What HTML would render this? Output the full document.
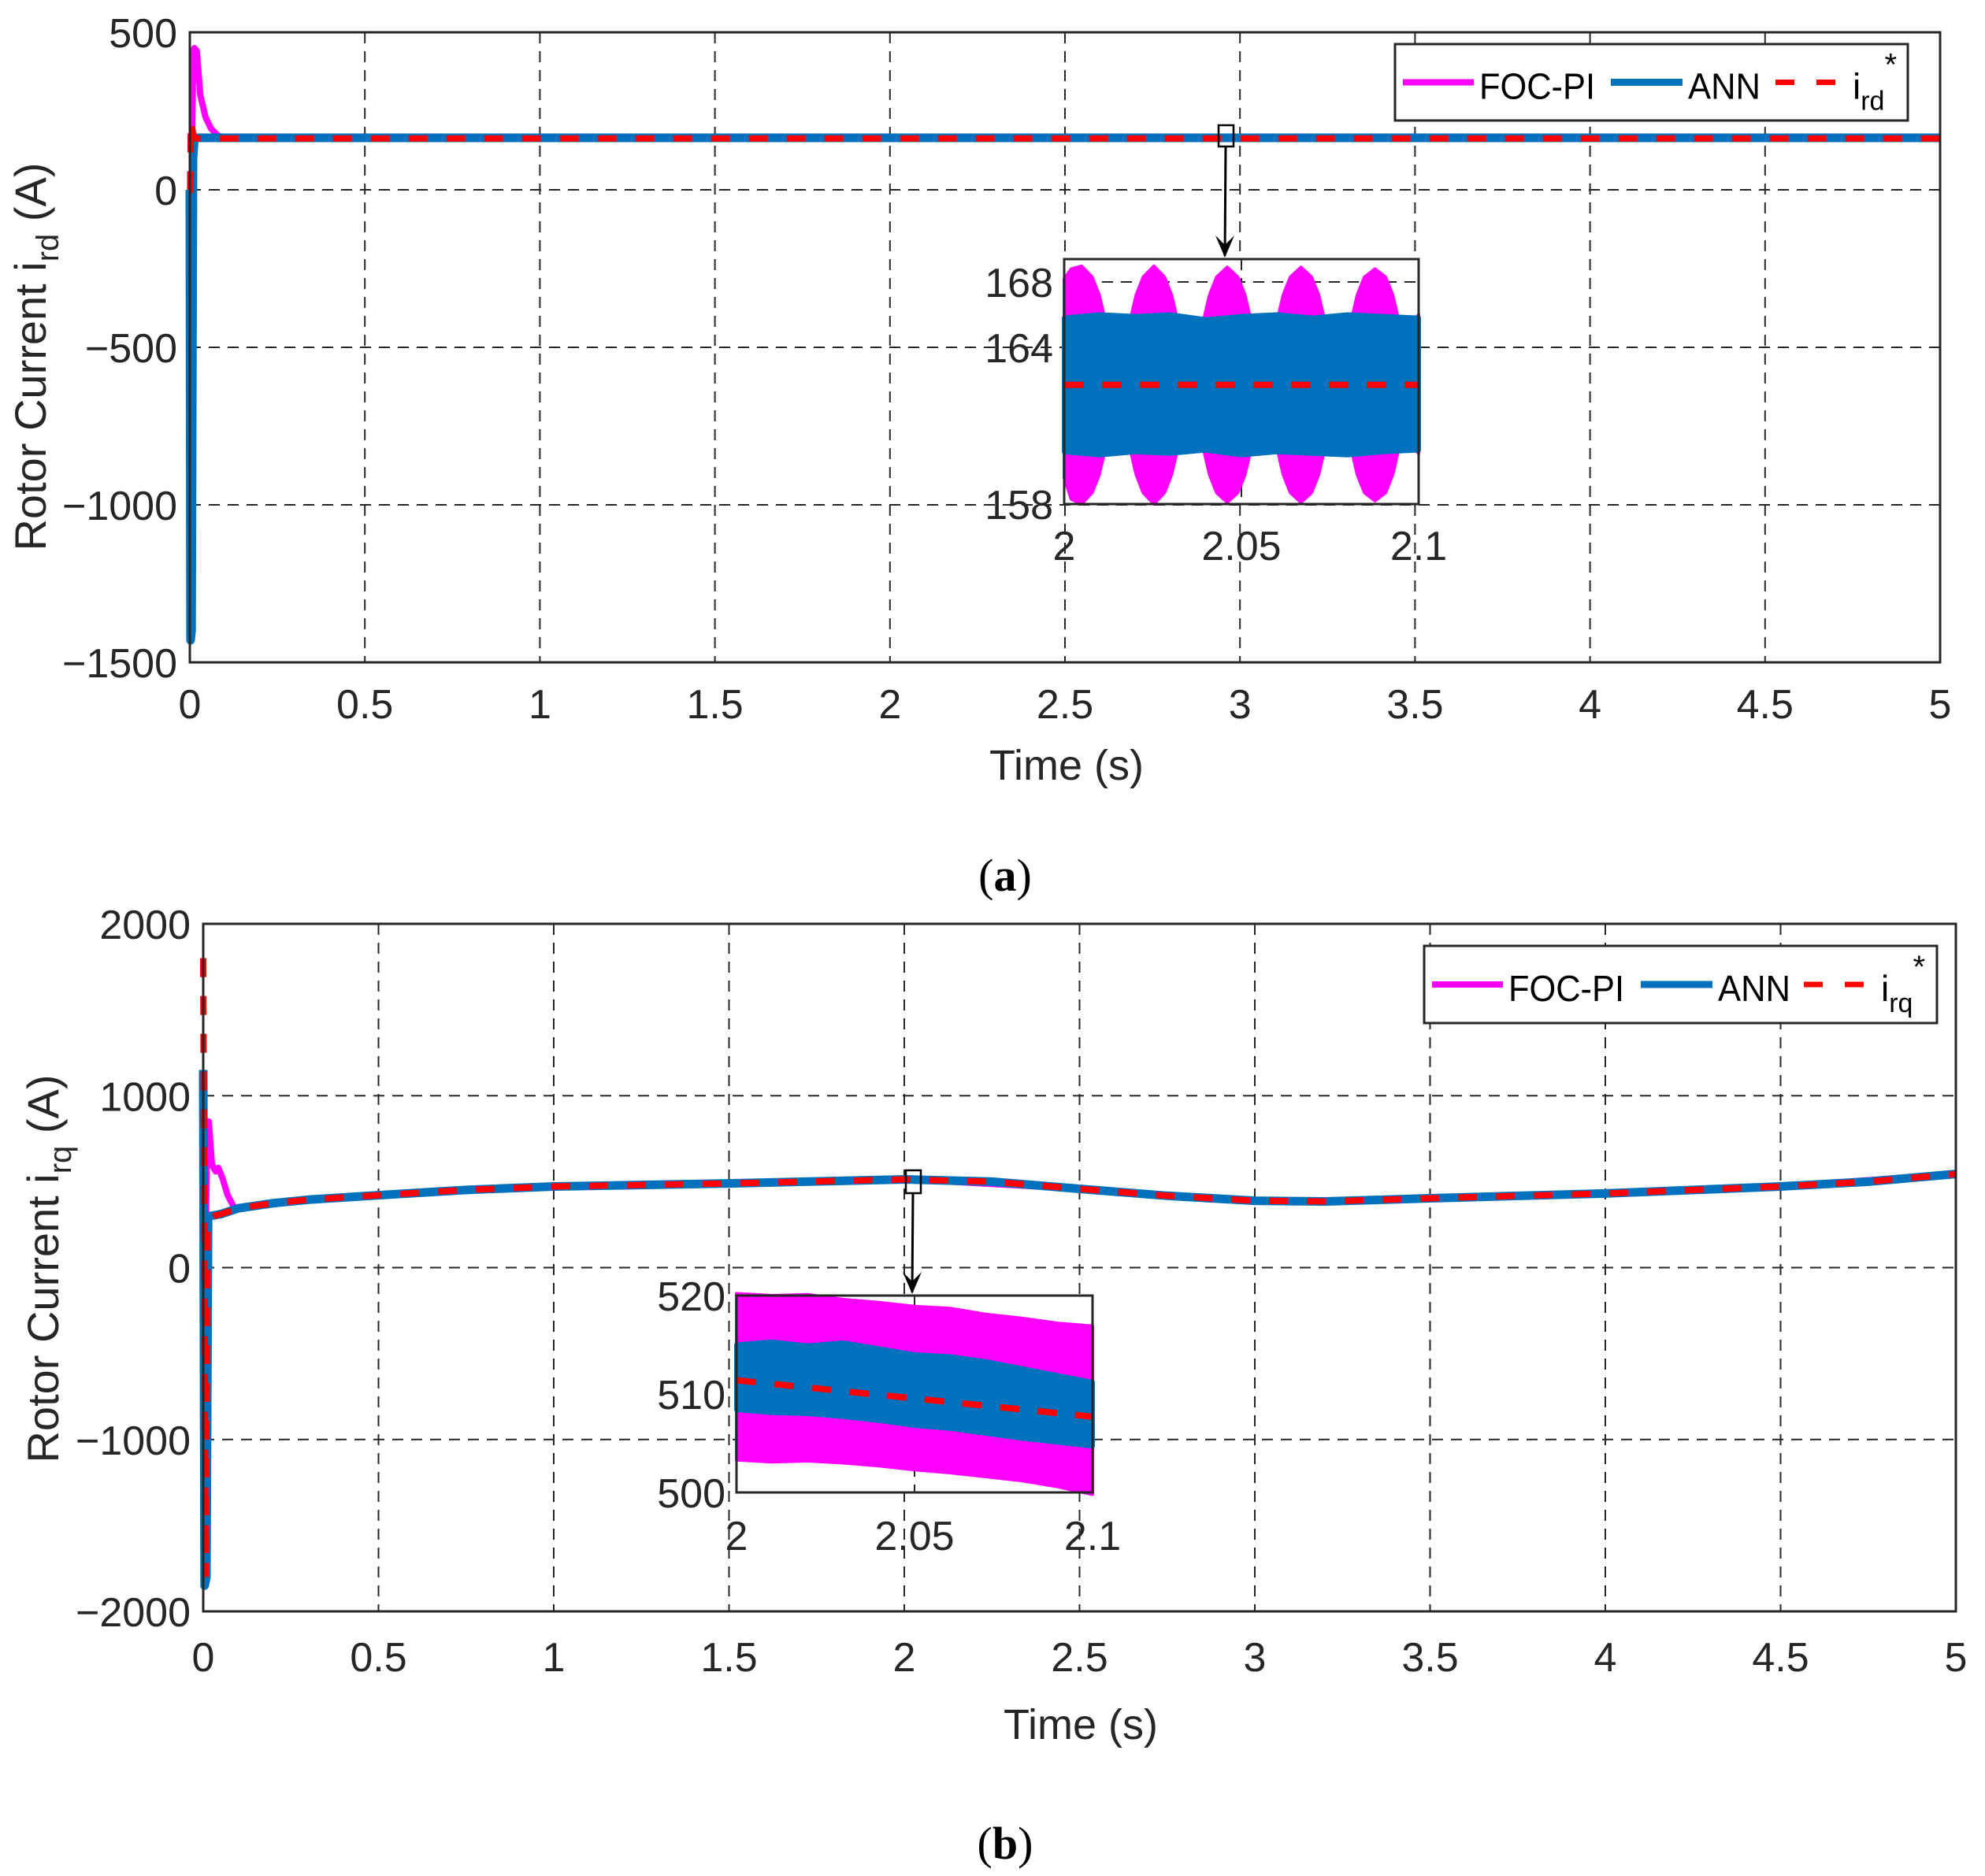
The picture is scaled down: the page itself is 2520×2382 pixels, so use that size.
<!DOCTYPE html>
<html><head><meta charset="utf-8"><style>
html,body{margin:0;padding:0;background:#fff;}
svg{display:block;font-family:"Liberation Sans",Arial,sans-serif;}
</style></head><body>
<svg id="fig" xmlns="http://www.w3.org/2000/svg" width="2520" height="2382" viewBox="0 0 2520 2382"></svg>
<script>
// ---------- data: panel (a) ----------
const aXTicks = [0, 0.5, 1, 1.5, 2, 2.5, 3, 3.5, 4, 4.5, 5];
const aXTickLabels = ['0','0.5','1','1.5','2','2.5','3','3.5','4','4.5','5'];
const aYTicks = [500, 0, -500, -1000, -1500];
const aYTickLabels = ['500','0','\u2212500','\u22121000','\u22121500'];
const aFocT = [0, 0.004, 0.007, 0.010, 0.013, 0.020, 0.030, 0.045, 0.060, 0.080, 0.10, 1.8, 2.0, 4.8, 5];
const aFocV = [0, -630, 200, 440, 450, 440, 300, 230, 195, 172, 166, 168, 166, 168, 166];
const aAnnT = [0, 0.002, 0.005, 0.009, 0.013, 0.02, 5];
const aAnnV = [0, -1430, -1400, 100, 165, 165, 165];
const aRefT = [0, 0.001, 0.003, 0.012, 5];
const aRefV = [0, 0, 220, 163, 163];
// inset (a)
const aInXTicks = [2, 2.05, 2.1];
const aInXLabels = ['2','2.05','2.1'];
const aInYTicks = [154.4, 164, 168];
const aInYLabels = ['158','164','168'];
const aInT = [2.0, 2.002, 2.0049, 2.0079, 2.0099, 2.0114, 2.015,
  2.0188, 2.0203, 2.0223, 2.0253, 2.0283, 2.0303, 2.0318, 2.0357,
  2.0395, 2.041, 2.043, 2.046, 2.049, 2.051, 2.0525, 2.0564,
  2.0603, 2.0618, 2.0638, 2.0668, 2.0698, 2.0718, 2.0733, 2.0773,
  2.0812, 2.0827, 2.0847, 2.0877, 2.0907, 2.0927, 2.0942, 2.098, 2.1];
const aInFocHi = [168.2, 168.8, 168.97, 168.3, 167.2, 165.8, 165.5,
  165.8, 167.2, 168.3, 168.97, 168.3, 167.2, 165.8, 165.5,
  165.8, 167.2, 168.3, 168.9, 168.3, 167.2, 165.8, 165.5,
  165.8, 167.2, 168.3, 168.9, 168.3, 167.2, 165.8, 165.5,
  165.8, 167.2, 168.3, 168.8, 168.3, 167.2, 165.8, 165.5, 166.0];
const aInFocLo = [156.0, 154.7, 154.4, 155.1, 156.2, 157.6, 157.9,
  157.6, 156.2, 155.1, 154.4, 155.1, 156.2, 157.6, 157.9,
  157.6, 156.2, 155.1, 154.5, 155.1, 156.2, 157.6, 157.9,
  157.6, 156.2, 155.1, 154.5, 155.1, 156.2, 157.6, 157.9,
  157.6, 156.2, 155.1, 154.6, 155.1, 156.2, 157.6, 157.9, 157.5];
const aInAnnT = [2.0, 2.01, 2.02, 2.03, 2.04, 2.05, 2.06, 2.07, 2.08, 2.09, 2.1];
const aInAnnHi = [165.8, 166.0, 165.9, 166.0, 165.7, 165.9, 166.0, 165.8, 166.0, 165.9, 165.8];
const aInAnnLo = [157.6, 157.4, 157.6, 157.5, 157.7, 157.4, 157.6, 157.5, 157.4, 157.6, 157.7];
const aInRefT = [2.0, 2.1];
const aInRefV = [161.7, 161.7];

// ---------- data: panel (b) ----------
const bXTicks = [0, 0.5, 1, 1.5, 2, 2.5, 3, 3.5, 4, 4.5, 5];
const bXTickLabels = ['0','0.5','1','1.5','2','2.5','3','3.5','4','4.5','5'];
const bYTicks = [2000, 1000, 0, -1000, -2000];
const bYTickLabels = ['2000','1000','0','\u22121000','\u22122000'];
const bRefT = [0, 0.003, 0.007, 0.012, 0.03, 0.05, 0.1, 0.2, 0.3, 0.5, 0.75, 1, 1.5, 2, 2.25, 2.5, 2.75, 3, 3.2, 3.5, 4, 4.5, 4.75, 5];
const bRefV = [1800, 200, -1800, 280, 300, 311, 345, 375, 395, 421, 452, 472, 490, 513, 500, 458, 418, 389, 385, 403, 431, 472, 500, 545];
const bAnnT = [0, 0.004, 0.009, 0.014, 0.02, 0.05, 0.1, 0.2, 0.3, 0.5, 0.75, 1, 1.5, 2, 2.25, 2.5, 2.75, 3, 3.2, 3.5, 4, 4.5, 4.75, 5];
const bAnnV = [1150, -1850, -1800, 290, 300, 311, 345, 375, 395, 421, 452, 472, 490, 513, 500, 458, 418, 389, 385, 403, 431, 472, 500, 545];
const bFocT = [0, 0.008, 0.012, 0.016, 0.025, 0.035, 0.043, 0.055, 0.07, 0.088, 0.12, 0.2, 0.5, 1, 1.5, 2, 2.5, 3, 3.2, 3.5, 4, 4.5, 5];
const bFocV = [0, 300, 850, 850, 600, 560, 580, 520, 420, 350, 350, 375, 421, 472, 490, 515, 458, 389, 385, 403, 431, 472, 545];
// inset (b)
const bInXTicks = [2, 2.05, 2.1];
const bInXLabels = ['2','2.05','2.1'];
const bInYTicks = [500, 510, 520];
const bInYLabels = ['500','510','520'];
const bInT = [2.0, 2.01, 2.02, 2.03, 2.04, 2.05, 2.06, 2.07, 2.08, 2.09, 2.1];
const bInFocHi = [520.2, 520.0, 520.1, 519.6, 519.3, 518.9, 518.7, 518.1, 517.7, 517.2, 516.9];
const bInFocLo = [503.3, 503.1, 503.2, 503.0, 502.7, 502.3, 502.0, 501.6, 501.2, 500.6, 499.8];
const bInAnnHi = [515.0, 515.3, 514.9, 515.2, 514.6, 514.0, 513.8, 513.3, 512.6, 511.9, 511.2];
const bInAnnLo = [508.4, 508.1, 508.0, 507.7, 507.3, 506.8, 506.5, 506.0, 505.5, 505.1, 504.7];
const bInRefT = [2.0, 2.1];
const bInRefV = [511.4, 507.7];

// ---------- helpers ----------
const NS = 'http://www.w3.org/2000/svg';
const svg = document.getElementById('fig');
function mk(tag, attrs, parent) {
  const e = document.createElementNS(NS, tag);
  for (const k in attrs) e.setAttribute(k, attrs[k]);
  (parent || svg).appendChild(e);
  return e;
}
function scale(d0, d1, r0, r1) { return v => r0 + (v - d0) / (d1 - d0) * (r1 - r0); }
function pathD(ts, vs, sx, sy) { return ts.map((t, i) => (i ? 'L' : 'M') + sx(t).toFixed(1) + ',' + sy(vs[i]).toFixed(1)).join(''); }
function bandD(ts, hi, lo, sx, sy) {
  let d = ts.map((t, i) => (i ? 'L' : 'M') + sx(t).toFixed(1) + ',' + sy(hi[i]).toFixed(1)).join('');
  for (let i = ts.length - 1; i >= 0; i--) d += 'L' + sx(ts[i]).toFixed(1) + ',' + sy(lo[i]).toFixed(1);
  return d + 'Z';
}
const TXT = '#262626';
const MAG = '#ff00ff', BLU = '#0072bd', RED = '#ff0000';

function panel(o) {
  const g = mk('g', {});
  
  
  const sx = scale(0, 5, o.L, o.R), sy = scale(o.yMin, o.yMax, o.B, o.T);
  o.xTicks.forEach((t, i) => {
    if (i > 0 && i < o.xTicks.length - 1) {
      const l = mk('line', {x1: sx(t), x2: sx(t), y1: o.T, y2: o.B, stroke: TXT, 'stroke-width': 2, 'stroke-dasharray': '14 10'}, g);
      
      
    }
    const tx = mk('text', {x: sx(t), y: o.xLabY, 'font-size': 52, 'text-anchor': 'middle', fill: TXT}, g);
    tx.textContent = o.xLabels[i];
    
    
  });
  o.yTicks.forEach((v, i) => {
    if (i > 0 && i < o.yTicks.length - 1) {
      const l = mk('line', {x1: o.L, x2: o.R, y1: sy(v), y2: sy(v), stroke: TXT, 'stroke-width': 2, 'stroke-dasharray': '14 10'}, g);
      
      
    }
    const tx = mk('text', {x: o.L - 16, y: sy(v) + 19, 'font-size': 52, 'text-anchor': 'end', fill: TXT}, g);
    tx.textContent = o.yLabels[i];
    
    
  });
  const clip = mk('clipPath', {id: o.name + '-clip'}, g);
  mk('rect', {x: o.L - 6, y: o.T, width: o.R - o.L + 12, height: o.B - o.T}, clip);
  const sg = mk('g', {'clip-path': 'url(#' + o.name + '-clip)'}, g);
  const pf = mk('path', {d: pathD(o.focT, o.focV, sx, sy), fill: 'none', stroke: MAG, 'stroke-width': 8, 'stroke-linejoin': 'round'}, sg);
  
  
  const pa = mk('path', {d: pathD(o.annT, o.annV, sx, sy), fill: 'none', stroke: BLU, 'stroke-width': 11, 'stroke-linejoin': 'round'}, sg);
  
  
  const pr = mk('path', {d: pathD(o.refT, o.refV, sx, sy), fill: 'none', stroke: RED, 'stroke-width': 8, 'stroke-dasharray': '24 24'}, sg);
  
  
  const fr = mk('rect', {x: o.L, y: o.T, width: o.R - o.L, height: o.B - o.T, fill: 'none', stroke: TXT, 'stroke-width': 3}, g);
  
  
  const xt = mk('text', {x: o.xTitleX, y: o.xTitleY, 'font-size': 54, 'text-anchor': 'middle', fill: TXT}, g);
  xt.textContent = 'Time (s)';
  
  
  const yt = mk('text', {x: 0, y: 0, 'font-size': 56, 'text-anchor': 'middle', fill: TXT, transform: 'translate(' + o.yTitleX + ',' + o.yTitleY + ') rotate(-90)'}, g);
  
  
  yt.appendChild(document.createTextNode('Rotor Current i'));
  const ts = mk('tspan', {'font-size': 40, dy: 16}, yt); ts.textContent = o.sub;
  const ts2 = mk('tspan', {dy: -16}, yt); ts2.textContent = ' (A)';
  const lg = mk('g', {}, g);
  
  
  const lb = mk('rect', {x: o.lg.x, y: o.lg.y, width: o.lg.w, height: o.lg.h, fill: '#fff', stroke: TXT, 'stroke-width': 3}, lg);
  
  
  const ly = o.lg.y + o.lg.h * 0.5, by = ly + 21, x0 = o.lg.x;
  const e1 = mk('line', {x1: x0 + 10, x2: x0 + 100, y1: ly, y2: ly, stroke: MAG, 'stroke-width': 8}, lg);
  
  
  const t1 = mk('text', {x: x0 + 107, y: by, 'font-size': 46, fill: '#000', textLength: 147, lengthAdjust: 'spacingAndGlyphs'}, lg); t1.textContent = 'FOC-PI';
  
  
  const e2 = mk('line', {x1: x0 + o.lg.b, x2: x0 + o.lg.b + 91, y1: ly, y2: ly, stroke: BLU, 'stroke-width': 9}, lg);
  
  
  const t2 = mk('text', {x: x0 + o.lg.b + 98, y: by, 'font-size': 46, fill: '#000', textLength: 92, lengthAdjust: 'spacingAndGlyphs'}, lg); t2.textContent = 'ANN';
  
  
  const e3 = mk('line', {x1: x0 + o.lg.r, x2: x0 + o.lg.r + 76, y1: ly, y2: ly, stroke: RED, 'stroke-width': 7, 'stroke-dasharray': '24 28'}, lg);
  
  
  const t3 = mk('text', {x: x0 + o.lg.r + 98, y: by, 'font-size': 46, fill: '#000'}, lg);
  
  
  t3.appendChild(document.createTextNode('i'));
  const s1 = mk('tspan', {'font-size': 34, dy: 14}, t3); s1.textContent = o.sub;
  const s2 = mk('tspan', {'font-size': 40, dy: -44}, t3); s2.textContent = '*';
  const ig = mk('g', {}, g);
  
  
  const I = o.inset;
  const isx = scale(2, 2.1, I.L, I.R), isy = scale(I.yMin, I.yMax, I.B, I.T);
  mk('rect', {x: I.L, y: I.T, width: I.R - I.L, height: I.B - I.T, fill: '#fff'}, ig);
  I.yTicks.forEach((v, i) => {
    if (I.yGrid[i]) {
      const l = mk('line', {x1: I.L, x2: I.R, y1: isy(v), y2: isy(v), stroke: TXT, 'stroke-width': 2, 'stroke-dasharray': '14 10'}, ig);
      
      
    }
    const tx = mk('text', {x: I.L - 14, y: isy(v) + 19, 'font-size': 52, 'text-anchor': 'end', fill: TXT}, ig);
    tx.textContent = I.yLabels[i];
    
    
  });
  I.xTicks.forEach((t, i) => {
    if (i === 1) {
      const l = mk('line', {x1: isx(t), x2: isx(t), y1: I.T, y2: I.B, stroke: TXT, 'stroke-width': 2, 'stroke-dasharray': '14 10'}, ig);
      
      
    }
    const tx = mk('text', {x: isx(t), y: I.labY, 'font-size': 52, 'text-anchor': 'middle', fill: TXT}, ig);
    tx.textContent = I.xLabels[i];
    
    
  });
  const bf = mk('path', {d: bandD(I.focT, I.focHi, I.focLo, isx, isy), fill: MAG, stroke: MAG, 'stroke-width': 4, 'stroke-linejoin': 'round'}, ig);
  
  
  const ba = mk('path', {d: bandD(I.annT, I.annHi, I.annLo, isx, isy), fill: BLU, stroke: BLU, 'stroke-width': 6, 'stroke-linejoin': 'round'}, ig);
  
  
  const br = mk('path', {d: pathD(I.refT, I.refV, isx, isy), fill: 'none', stroke: RED, 'stroke-width': 8, 'stroke-dasharray': '25 23'}, ig);
  
  
  const ifr = mk('rect', {x: I.L, y: I.T, width: I.R - I.L, height: I.B - I.T, fill: 'none', stroke: TXT, 'stroke-width': 3}, ig);
  
  
  const zb = mk('rect', {x: o.arrow.bx, y: o.arrow.by, width: 19, height: o.arrow.bh, fill: 'none', stroke: '#000', 'stroke-width': 2.5}, g);
  
  
  const ax = o.arrow.bx + 9;
  const al = mk('line', {x1: ax, x2: ax - 1, y1: o.arrow.by + o.arrow.bh, y2: I.T - 4, stroke: '#000', 'stroke-width': 3}, g);
  
  
  mk('path', {d: 'M' + (ax - 13) + ',' + (I.T - 30) + ' L' + (ax - 1) + ',' + (I.T - 2) + ' L' + (ax + 11) + ',' + (I.T - 30) + ' L' + (ax - 1) + ',' + (I.T - 18) + 'Z', fill: '#000'}, g);
  const cp = mk('text', {x: 1276, y: o.capY, 'font-size': 58, 'text-anchor': 'middle', fill: '#000', 'font-family': '"Liberation Serif", serif'}, svg);
  
  
  cp.appendChild(document.createTextNode('('));
  const cb = mk('tspan', {'font-weight': 'bold'}, cp); cb.textContent = o.cap;
  const ce = mk('tspan', {}, cp); ce.textContent = ')';
}

panel({
  name: 'panel-a-ird', L: 241, R: 2463, T: 41, B: 841, yMin: -1500, yMax: 500,
  xTicks: aXTicks, xLabels: aXTickLabels, yTicks: aYTicks, yLabels: aYTickLabels,
  xLabY: 912, xTitleX: 1354, xTitleY: 990, yTitleX: 58, yTitleY: 453, sub: 'rd',
  focT: aFocT, focV: aFocV, annT: aAnnT, annV: aAnnV, refT: aRefT, refV: aRefV,
  lg: {x: 1771, y: 56, w: 651, h: 97, b: 274, r: 483},
  inset: {L: 1351, R: 1801, T: 329, B: 640, yMin: 154.4, yMax: 169.4, labY: 711,
    xTicks: aInXTicks, xLabels: aInXLabels, yTicks: aInYTicks, yLabels: aInYLabels, yGrid: [false, true, true],
    focT: aInT, focHi: aInFocHi, focLo: aInFocLo, annT: aInAnnT, annHi: aInAnnHi, annLo: aInAnnLo, refT: aInRefT, refV: aInRefV},
  arrow: {bx: 1547, by: 159, bh: 27}, capY: 1131, cap: 'a'
});
panel({
  name: 'panel-b-irq', L: 258, R: 2483, T: 1173, B: 2046, yMin: -2000, yMax: 2000,
  xTicks: bXTicks, xLabels: bXTickLabels, yTicks: bYTicks, yLabels: bYTickLabels,
  xLabY: 2122, xTitleX: 1372, xTitleY: 2208, yTitleX: 74, yTitleY: 1611, sub: 'rq',
  focT: bFocT, focV: bFocV, annT: bAnnT, annV: bAnnV, refT: bRefT, refV: bRefV,
  lg: {x: 1808, y: 1201, w: 651, h: 98, b: 275, r: 482},
  inset: {L: 935, R: 1387, T: 1645, B: 1895, yMin: 500, yMax: 520, labY: 1968,
    xTicks: bInXTicks, xLabels: bInXLabels, yTicks: bInYTicks, yLabels: bInYLabels, yGrid: [false, false, false],
    focT: bInT, focHi: bInFocHi, focLo: bInFocLo, annT: bInT, annHi: bInAnnHi, annLo: bInAnnLo, refT: bInRefT, refV: bInRefV},
  arrow: {bx: 1150, by: 1486, bh: 29}, capY: 2360, cap: 'b'
});
</script>
</body></html>
